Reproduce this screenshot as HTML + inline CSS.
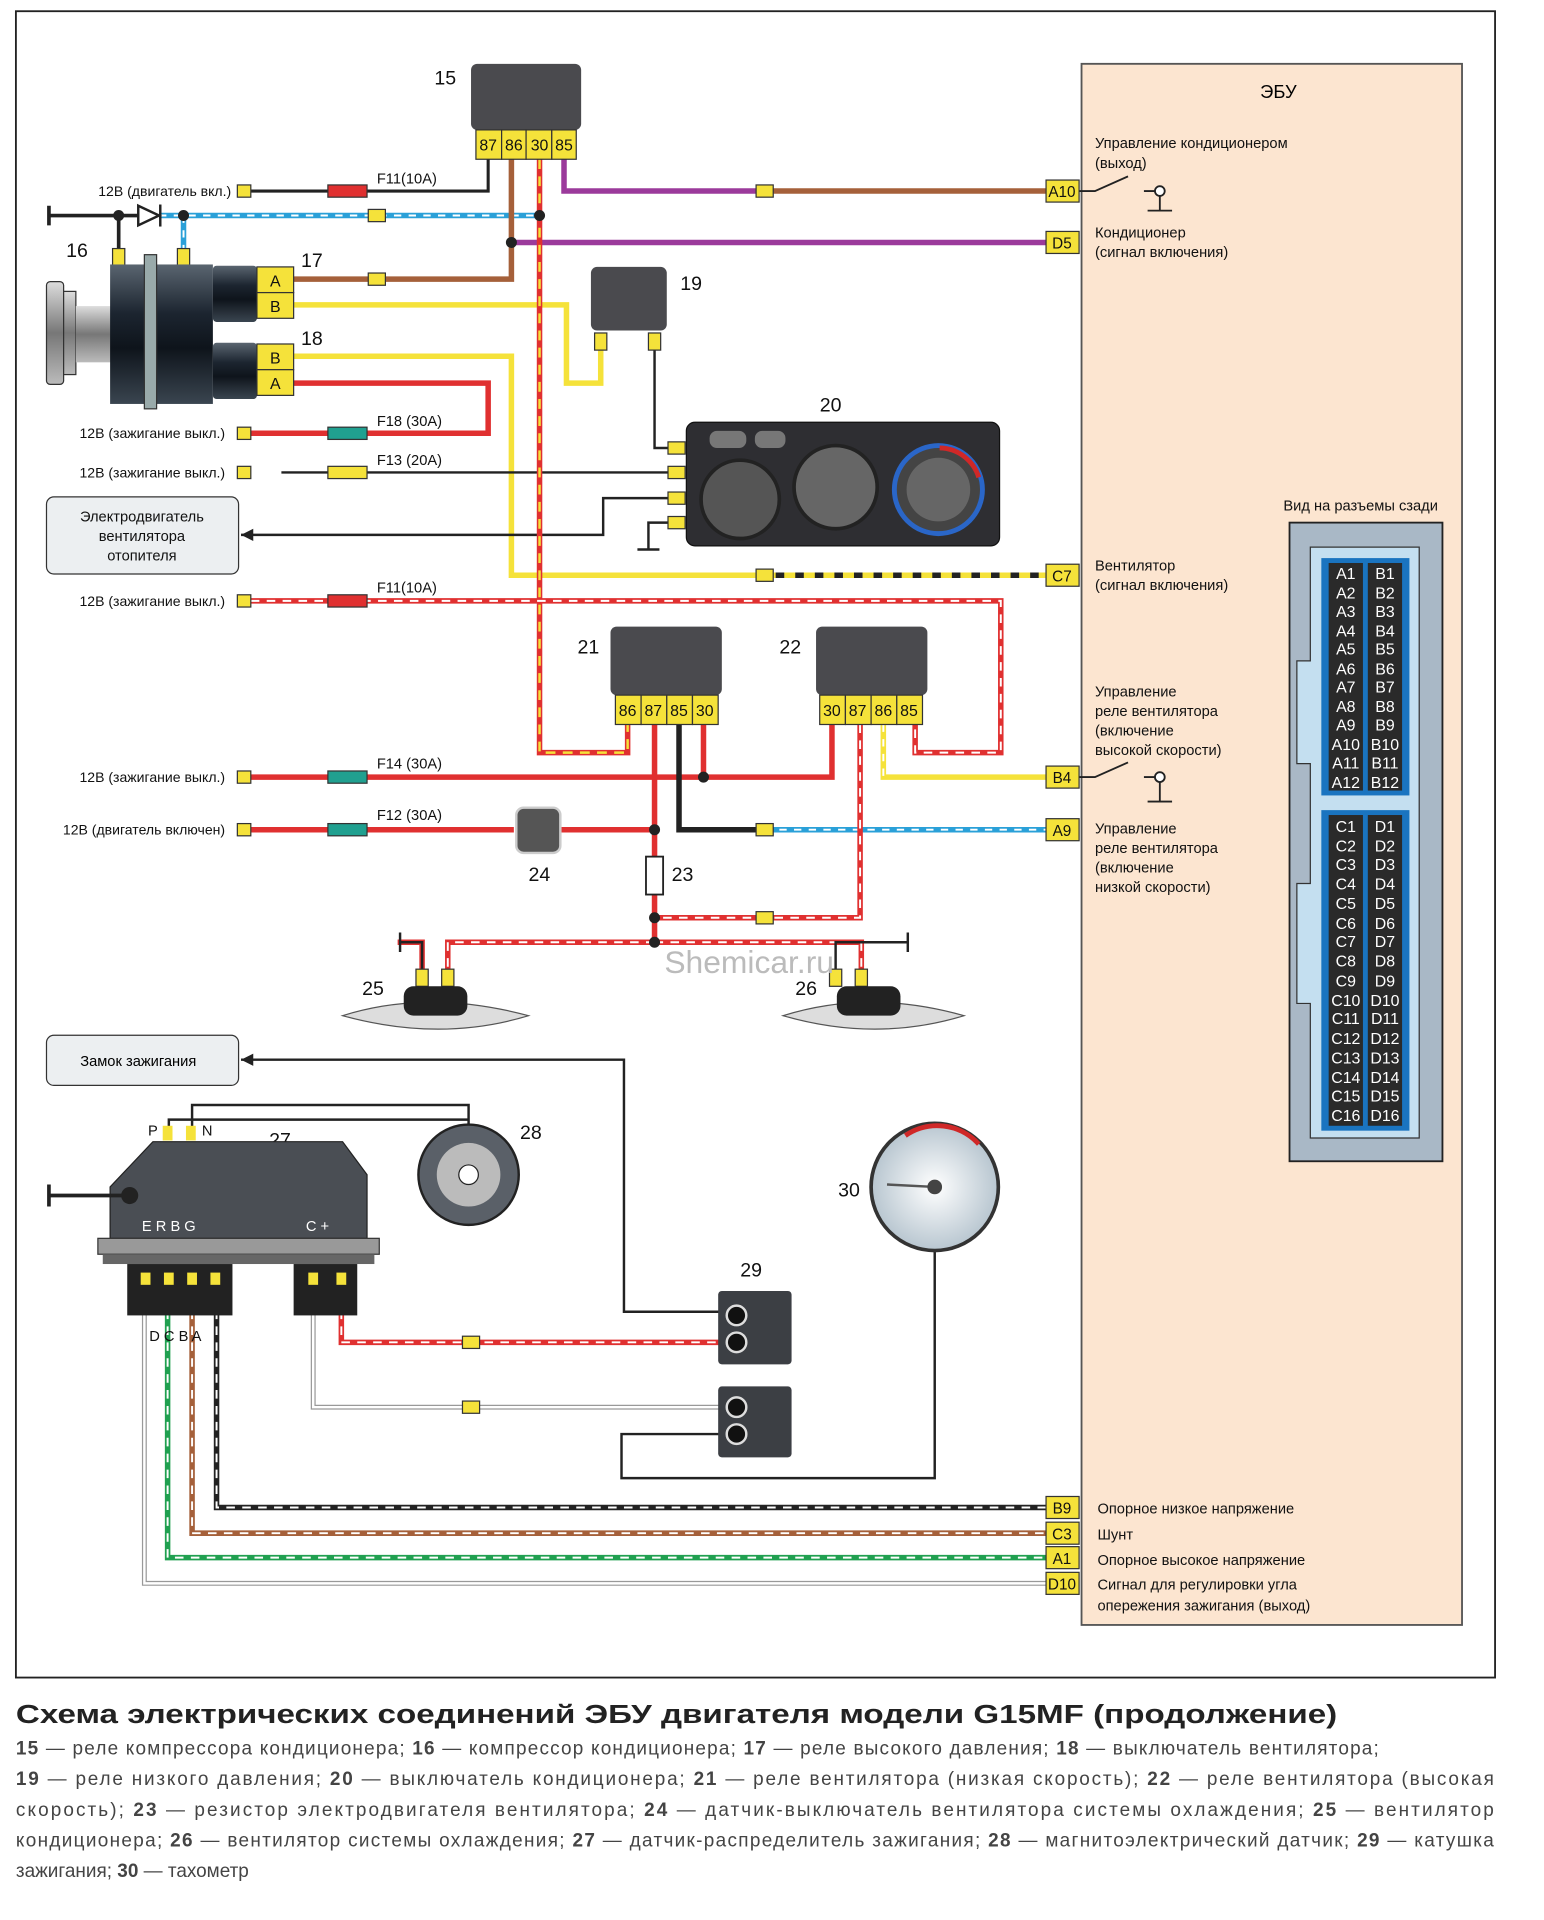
<!DOCTYPE html>
<html><head><meta charset="utf-8"><style>
html,body{margin:0;padding:0;background:#fff}
svg{display:block}
text{font-family:"Liberation Sans",sans-serif}
</style></head><body>
<svg width="1544" height="1920" viewBox="0 0 1262 1569" xmlns="http://www.w3.org/2000/svg">
<defs>
<linearGradient id="cyl" x1="0" y1="0" x2="0" y2="1"><stop offset="0" stop-color="#5a6570"/><stop offset="0.35" stop-color="#1c2530"/><stop offset="0.6" stop-color="#0e141b"/><stop offset="1" stop-color="#3a4550"/></linearGradient>
<linearGradient id="pul" x1="0" y1="0" x2="0" y2="1"><stop offset="0" stop-color="#ddd"/><stop offset="0.5" stop-color="#777"/><stop offset="1" stop-color="#bbb"/></linearGradient>
<radialGradient id="dial"><stop offset="0" stop-color="#fff"/><stop offset="1" stop-color="#b8c6d0"/></radialGradient>
</defs>
<rect x="13" y="9" width="1209" height="1362" fill="#fff" stroke="#222" stroke-width="1.5"/>
<!-- ECU -->
<rect x="884" y="52" width="311" height="1276" fill="#fce5d0" stroke="#555" stroke-width="1.5"/>
<text x="1030" y="80" font-size="15">ЭБУ</text>
<g font-size="12" fill="#111">
<text x="895" y="121">Управление кондиционером</text><text x="895" y="137">(выход)</text>
<text x="895" y="194">Кондиционер</text><text x="895" y="210">(сигнал включения)</text>
<text x="895" y="466">Вентилятор</text><text x="895" y="482">(сигнал включения)</text>
<text x="895" y="569">Управление</text><text x="895" y="585">реле вентилятора</text><text x="895" y="601">(включение</text><text x="895" y="617">высокой скорости)</text>
<text x="895" y="681">Управление</text><text x="895" y="697">реле вентилятора</text><text x="895" y="713">(включение</text><text x="895" y="729">низкой скорости)</text>
<text x="897" y="1237">Опорное низкое напряжение</text>
<text x="897" y="1258">Шунт</text>
<text x="897" y="1279">Опорное высокое напряжение</text>
<text x="897" y="1299">Сигнал для регулировки угла</text>
<text x="897" y="1316">опережения зажигания (выход)</text>
<text x="1049" y="417">Вид на разъемы сзади</text>
</g>
<!-- connector view -->
<rect x="1054" y="427" width="125" height="522" fill="#a9b8c6" stroke="#222" stroke-width="1.5"/>
<path d="M1071 447 H1160 V930 H1071 V820 H1060 V722 H1071 V624 H1060 V540 H1071 Z" fill="#c4dff0" stroke="#333"/>
<rect x="1080" y="456" width="72" height="194" fill="#1a74c0"/>
<rect x="1080" y="662" width="72" height="262" fill="#1a74c0"/>
<g fill="#2a2a2a">
<rect x="1086" y="460" width="28" height="186"/><rect x="1118" y="460" width="28" height="186"/>
<rect x="1086" y="666" width="28" height="254"/><rect x="1118" y="666" width="28" height="254"/>
</g>
<g fill="#fff" font-size="13" text-anchor="middle">
<text x="1100" y="473">A1</text><text x="1132" y="473">B1</text>
<text x="1100" y="489">A2</text><text x="1132" y="489">B2</text>
<text x="1100" y="504">A3</text><text x="1132" y="504">B3</text>
<text x="1100" y="520">A4</text><text x="1132" y="520">B4</text>
<text x="1100" y="535">A5</text><text x="1132" y="535">B5</text>
<text x="1100" y="551">A6</text><text x="1132" y="551">B6</text>
<text x="1100" y="566">A7</text><text x="1132" y="566">B7</text>
<text x="1100" y="582">A8</text><text x="1132" y="582">B8</text>
<text x="1100" y="597">A9</text><text x="1132" y="597">B9</text>
<text x="1100" y="613">A10</text><text x="1132" y="613">B10</text>
<text x="1100" y="628">A11</text><text x="1132" y="628">B11</text>
<text x="1100" y="644">A12</text><text x="1132" y="644">B12</text>
<text x="1100" y="680">C1</text><text x="1132" y="680">D1</text>
<text x="1100" y="696">C2</text><text x="1132" y="696">D2</text>
<text x="1100" y="711">C3</text><text x="1132" y="711">D3</text>
<text x="1100" y="727">C4</text><text x="1132" y="727">D4</text>
<text x="1100" y="743">C5</text><text x="1132" y="743">D5</text>
<text x="1100" y="759">C6</text><text x="1132" y="759">D6</text>
<text x="1100" y="774">C7</text><text x="1132" y="774">D7</text>
<text x="1100" y="790">C8</text><text x="1132" y="790">D8</text>
<text x="1100" y="806">C9</text><text x="1132" y="806">D9</text>
<text x="1100" y="822">C10</text><text x="1132" y="822">D10</text>
<text x="1100" y="837">C11</text><text x="1132" y="837">D11</text>
<text x="1100" y="853">C12</text><text x="1132" y="853">D12</text>
<text x="1100" y="869">C13</text><text x="1132" y="869">D13</text>
<text x="1100" y="885">C14</text><text x="1132" y="885">D14</text>
<text x="1100" y="900">C15</text><text x="1132" y="900">D15</text>
<text x="1100" y="916">C16</text><text x="1132" y="916">D16</text>
</g>

<!-- WIRES -->
<g fill="none" stroke-width="4.5" stroke-linejoin="miter">
<path d="M205 156 H399 V130" stroke="#222" stroke-width="2.5"/>
<path d="M40 176 H113 M97 176 V205 M40 168 V184" stroke="#222" stroke-width="3"/>
<path d="M130 176 H441 M150 176 V205" stroke="#2aa0d8"/>
<path d="M130 176 H441 M150 176 V205" stroke="#fff" stroke-width="1.6" stroke-dasharray="6 6"/>
<path d="M418 130 V228 H240" stroke="#a5603a"/>
<path d="M461 130 V156 H625" stroke="#9b3a9b"/>
<path d="M625 156 H855" stroke="#a5603a"/>
<path d="M418 198 H855" stroke="#9b3a9b"/>
<path d="M240 249 H463 V313 H491 V285" stroke="#f5e23a"/>
<path d="M535 285 V366 H548" stroke="#222" stroke-width="2"/>
<path d="M240 291 H418 V470 H625" stroke="#f5e23a"/>
<path d="M625 470 H855" stroke="#222"/>
<path d="M625 470 H855" stroke="#f5e23a" stroke-dasharray="9 7"/>
<path d="M240 313 H399 V354 H205" stroke="#e03030"/>
<path d="M230 386 H548" stroke="#222" stroke-width="2"/>
<path d="M197 437 H493 V407 H548 M548 427 H530 V449 M521 449 H539" stroke="#222" stroke-width="2"/>
<path d="M441 130 V615 H513 V592" stroke="#e03030"/>
<path d="M441 130 V615 H513 V592" stroke="#f5e23a" stroke-width="2" stroke-dasharray="8 6"/>
<path d="M205 491 H818 V615 H748 V592" stroke="#e03030"/>
<path d="M205 491 H818 V615 H748 V592" stroke="#fff" stroke-width="1.6" stroke-dasharray="7 6"/>
<path d="M205 635 H680 V592 M575 592 V635" stroke="#e03030"/>
<path d="M535 592 V770" stroke="#e03030"/>
<path d="M555 592 V678 H625" stroke="#222"/>
<path d="M625 678 H855" stroke="#2aa0d8"/>
<path d="M625 678 H855" stroke="#fff" stroke-width="1.6" stroke-dasharray="6 6"/>
<path d="M722 592 V635 H855" stroke="#f5e23a"/>
<path d="M722 592 V635" stroke="#fff" stroke-width="1.6" stroke-dasharray="6 6"/>
<path d="M703 592 V750 H535" stroke="#e03030"/>
<path d="M703 592 V750 H535" stroke="#fff" stroke-width="1.6" stroke-dasharray="7 6"/>
<path d="M205 678 H420 M458 678 H535" stroke="#e03030"/>
<path d="M535 770 H366 V792 M535 770 H704 V792 M345 792 V770 H325" stroke="#e03030"/>
<path d="M535 770 H366 V792 M535 770 H704 V792" stroke="#fff" stroke-width="1.6" stroke-dasharray="7 6"/>
<path d="M345 792 V770 H327 V768 M327 762 V778 M683 792 V770 H742 M742 762 V778" stroke="#222" stroke-width="2"/>
<path d="M197 866 H510 V1072 H590" stroke="#222" stroke-width="2"/>
<path d="M138 930 V915 H383 V925 M157 930 V903 H384 M383 903 V920" stroke="#222" stroke-width="2"/>
<path d="M279 1045 V1097 H590" stroke="#e03030"/>
<path d="M279 1045 V1097 H590" stroke="#fff" stroke-width="1.6" stroke-dasharray="7 6"/>
<path d="M256 1045 V1150 H590" stroke="#999" stroke-width="4"/>
<path d="M256 1045 V1150 H590" stroke="#fff" stroke-width="2"/>
<path d="M764 1022 V1208 H508 V1172 H590" stroke="#222" stroke-width="2"/>
<path d="M177 1045 V1232 H855" stroke="#222"/>
<path d="M177 1045 V1232 H855" stroke="#fff" stroke-width="1.6" stroke-dasharray="7 6"/>
<path d="M157 1045 V1253 H855" stroke="#a5603a"/>
<path d="M157 1045 V1253 H855" stroke="#fff" stroke-width="1.6" stroke-dasharray="7 6"/>
<path d="M137 1045 V1273 H855" stroke="#20a050"/>
<path d="M137 1045 V1273 H855" stroke="#fff" stroke-width="1.6" stroke-dasharray="7 6"/>
<path d="M118 1045 V1294 H855" stroke="#999" stroke-width="4"/>
<path d="M118 1045 V1294 H855" stroke="#fff" stroke-width="2"/>
</g>
<g stroke="#222" stroke-width="1.5" fill="none">
<path d="M882 156 H895 L922 144 M935 156 H948 V172 M938 172 H958"/><circle cx="948" cy="156" r="4" fill="#fff"/>
<path d="M882 635 H895 L922 623 M935 635 H948 V655 M938 655 H958"/><circle cx="948" cy="635" r="4" fill="#fff"/>
</g>
<g fill="#222">
<circle cx="97" cy="176" r="4.5"/><circle cx="150" cy="176" r="4.5"/><circle cx="441" cy="176" r="4.5"/><circle cx="418" cy="198" r="4.5"/>
<circle cx="575" cy="635" r="4.5"/><circle cx="535" cy="678" r="4.5"/><circle cx="535" cy="750" r="4.5"/><circle cx="535" cy="770" r="4.5"/>
</g>
<path d="M113 168 L130 176 L113 184 Z" fill="#fff" stroke="#222" stroke-width="2"/><path d="M131 167 V185" stroke="#222" stroke-width="2"/>
<g stroke="#333" stroke-width="1">
<rect x="268" y="151" width="32" height="10" fill="#e03030"/>
<rect x="268" y="349" width="32" height="10" fill="#20a090"/>
<rect x="268" y="381" width="32" height="10" fill="#f5e23a"/>
<rect x="268" y="486" width="32" height="10" fill="#e03030"/>
<rect x="268" y="630" width="32" height="10" fill="#20a090"/>
<rect x="268" y="673" width="32" height="10" fill="#20a090"/>
</g>
<g font-size="12" fill="#111">
<text x="308" y="150">F11(10A)</text><text x="308" y="348">F18 (30A)</text><text x="308" y="380">F13 (20A)</text>
<text x="308" y="484">F11(10A)</text><text x="308" y="628">F14 (30A)</text><text x="308" y="670">F12 (30A)</text>
</g>
<g font-size="11.5" fill="#111" text-anchor="end">
<text x="189" y="160">12В (двигатель вкл.)</text>
<text x="184" y="358">12В (зажигание выкл.)</text>
<text x="184" y="390">12В (зажигание выкл.)</text>
<text x="184" y="495">12В (зажигание выкл.)</text>
<text x="184" y="639">12В (зажигание выкл.)</text>
<text x="184" y="682">12В (двигатель включен)</text>
</g>
<g fill="#f5e23a" stroke="#333" stroke-width="1">
<rect x="194" y="151" width="11" height="10"/><rect x="194" y="349" width="11" height="10"/><rect x="194" y="381" width="11" height="10"/>
<rect x="194" y="486" width="11" height="10"/><rect x="194" y="630" width="11" height="10"/><rect x="194" y="673" width="11" height="10"/>
<rect x="301" y="171" width="14" height="10"/><rect x="301" y="223" width="14" height="10"/>
<rect x="618" y="151" width="14" height="10"/><rect x="618" y="465" width="14" height="10"/><rect x="618" y="673" width="14" height="10"/><rect x="618" y="745" width="14" height="10"/>
<rect x="378" y="1092" width="14" height="10"/><rect x="378" y="1145" width="14" height="10"/>
<rect x="92" y="203" width="10" height="14"/><rect x="145" y="203" width="10" height="14"/>
<rect x="486" y="272" width="10" height="14"/><rect x="530" y="272" width="10" height="14"/>
<rect x="546" y="361" width="14" height="10"/><rect x="546" y="381" width="14" height="10"/><rect x="546" y="402" width="14" height="10"/><rect x="546" y="422" width="14" height="10"/>
<rect x="340" y="792" width="10" height="14"/><rect x="361" y="792" width="10" height="14"/><rect x="678" y="792" width="10" height="14"/><rect x="699" y="792" width="10" height="14"/>
</g>
<g fill="#f5e23a" stroke="#333" stroke-width="1">
<rect x="855" y="147" width="27" height="18"/><rect x="855" y="189" width="27" height="18"/><rect x="855" y="461" width="27" height="18"/>
<rect x="855" y="626" width="27" height="18"/><rect x="855" y="669" width="27" height="18"/>
<rect x="855" y="1223" width="27" height="18"/><rect x="855" y="1244" width="27" height="18"/><rect x="855" y="1264" width="27" height="18"/><rect x="855" y="1285" width="27" height="18"/>
</g>
<g font-size="12.5" fill="#111" text-anchor="middle">
<text x="868" y="161">A10</text><text x="868" y="203">D5</text><text x="868" y="475">C7</text><text x="868" y="640">B4</text><text x="868" y="683">A9</text>
<text x="868" y="1237">B9</text><text x="868" y="1258">C3</text><text x="868" y="1278">A1</text><text x="868" y="1299">D10</text>
</g>
<rect x="385" y="52" width="90" height="54" rx="5" fill="#4a4a4e"/>
<g fill="#f5e23a" stroke="#333"><rect x="389" y="106" width="21" height="24"/><rect x="410" y="106" width="20" height="24"/><rect x="430" y="106" width="21" height="24"/><rect x="451" y="106" width="20" height="24"/></g>
<g font-size="13" text-anchor="middle" fill="#111"><text x="399" y="123">87</text><text x="420" y="123">86</text><text x="441" y="123">30</text><text x="461" y="123">85</text></g>
<rect x="483" y="218" width="62" height="52" rx="5" fill="#4a4a4e"/>
<rect x="499" y="512" width="91" height="56" rx="5" fill="#4a4a4e"/>
<rect x="667" y="512" width="91" height="56" rx="5" fill="#4a4a4e"/>
<g fill="#f5e23a" stroke="#333">
<rect x="503" y="568" width="21" height="24"/><rect x="524" y="568" width="21" height="24"/><rect x="545" y="568" width="21" height="24"/><rect x="566" y="568" width="21" height="24"/>
<rect x="670" y="568" width="21" height="24"/><rect x="691" y="568" width="21" height="24"/><rect x="712" y="568" width="21" height="24"/><rect x="733" y="568" width="21" height="24"/>
</g>
<g font-size="13" text-anchor="middle" fill="#111">
<text x="513" y="585">86</text><text x="534" y="585">87</text><text x="555" y="585">85</text><text x="576" y="585">30</text>
<text x="680" y="585">30</text><text x="701" y="585">87</text><text x="722" y="585">86</text><text x="743" y="585">85</text>
</g>
<g font-size="16" fill="#111">
<text x="355" y="69">15</text><text x="54" y="210">16</text><text x="246" y="218">17</text><text x="246" y="282">18</text><text x="556" y="237">19</text>
<text x="670" y="336">20</text><text x="472" y="534">21</text><text x="637" y="534">22</text><text x="549" y="720">23</text><text x="432" y="720">24</text>
<text x="296" y="813">25</text><text x="650" y="813">26</text><text x="220" y="937">27</text><text x="425" y="931">28</text><text x="605" y="1043">29</text><text x="685" y="978">30</text>
</g>
<rect x="38" y="230" width="14" height="84" rx="3" fill="url(#pul)" stroke="#333"/>
<rect x="52" y="238" width="10" height="68" fill="url(#pul)" stroke="#333"/>
<rect x="62" y="250" width="30" height="46" fill="url(#pul)"/>
<rect x="90" y="216" width="84" height="114" fill="url(#cyl)"/>
<rect x="118" y="208" width="10" height="126" fill="#9aa" stroke="#333"/>
<rect x="174" y="217" width="36" height="46" rx="3" fill="url(#cyl)"/>
<rect x="174" y="280" width="36" height="46" rx="3" fill="url(#cyl)"/>
<g fill="#f5e23a" stroke="#333"><rect x="210" y="218" width="30" height="21"/><rect x="210" y="239" width="30" height="21"/><rect x="210" y="281" width="30" height="21"/><rect x="210" y="302" width="30" height="21"/></g>
<g font-size="13" text-anchor="middle" fill="#111"><text x="225" y="234">A</text><text x="225" y="255">B</text><text x="225" y="297">B</text><text x="225" y="318">A</text></g>
<rect x="561" y="345" width="256" height="101" rx="7" fill="#2e2e32" stroke="#111"/>
<circle cx="605" cy="408" r="32" fill="#555" stroke="#222" stroke-width="3"/>
<circle cx="683" cy="398" r="34" fill="#666" stroke="#222" stroke-width="3"/>
<circle cx="767" cy="400" r="36" fill="#444" stroke="#2a66c8" stroke-width="4"/>
<path d="M768 366 A34 34 0 0 1 800 390" stroke="#d02828" stroke-width="4" fill="none"/>
<circle cx="767" cy="400" r="26" fill="#666"/>
<rect x="580" y="352" width="30" height="14" rx="6" fill="#777"/><rect x="617" y="352" width="25" height="14" rx="6" fill="#777"/>
<rect x="38" y="406" width="157" height="63" rx="6" fill="#eceff1" stroke="#333"/>
<g font-size="12" text-anchor="middle" fill="#111"><text x="116" y="426">Электродвигатель</text><text x="116" y="442">вентилятора</text><text x="116" y="458">отопителя</text></g>
<rect x="38" y="846" width="157" height="41" rx="6" fill="#eceff1" stroke="#333"/>
<text x="113" y="871" font-size="12" text-anchor="middle">Замок зажигания</text>
<path d="M197 437 l10 -5 v10 z M197 866 l10 -5 v10 z" fill="#222"/>
<rect x="422" y="660" width="36" height="37" rx="6" fill="#555" stroke="#ccc" stroke-width="2"/>
<rect x="528" y="700" width="14" height="31" fill="#fff" stroke="#222" stroke-width="1.5"/>
<g fill="#ddd" stroke="#555">
<path d="M280 830 Q350 808 432 830 Q360 852 280 830 Z"/><path d="M640 830 Q710 808 788 830 Q716 852 640 830 Z"/>
</g>
<rect x="330" y="806" width="52" height="24" rx="8" fill="#222"/><rect x="684" y="806" width="52" height="24" rx="8" fill="#222"/>
<text x="543" y="795" font-size="26" fill="#bbb">Shemicar.ru</text>
<path d="M90 970 L125 933 H280 L300 960 V1012 H90 Z" fill="#4a4e54" stroke="#222"/>
<circle cx="106" cy="977" r="7" fill="#222"/>
<path d="M40 977 H100 M40 968 V986" stroke="#222" stroke-width="3"/>
<g font-size="12" fill="#fff"><text x="116" y="1006">E R B G</text><text x="250" y="1006">C +</text></g>
<rect x="80" y="1012" width="230" height="13" fill="#999" stroke="#333"/>
<rect x="84" y="1025" width="222" height="8" fill="#666"/>
<rect x="104" y="1033" width="86" height="42" fill="#222"/><rect x="240" y="1033" width="52" height="42" fill="#222"/>
<g fill="#f5e23a"><rect x="115" y="1040" width="8" height="10"/><rect x="134" y="1040" width="8" height="10"/><rect x="153" y="1040" width="8" height="10"/><rect x="172" y="1040" width="8" height="10"/><rect x="252" y="1040" width="8" height="10"/><rect x="275" y="1040" width="8" height="10"/>
<rect x="133" y="920" width="8" height="12"/><rect x="152" y="920" width="8" height="12"/></g>
<g font-size="12" fill="#111"><text x="121" y="928">P</text><text x="165" y="928">N</text><text x="122" y="1096">D C B A</text></g>
<circle cx="383" cy="960" r="41" fill="#5a6068" stroke="#222" stroke-width="2"/>
<circle cx="383" cy="960" r="26" fill="#bbb"/>
<circle cx="383" cy="960" r="8" fill="#fff" stroke="#222"/>
<rect x="587" y="1055" width="60" height="60" rx="3" fill="#3c3f44"/><rect x="587" y="1133" width="60" height="58" rx="3" fill="#3c3f44"/>
<g fill="#111" stroke="#ddd" stroke-width="2"><circle cx="602" cy="1075" r="8"/><circle cx="602" cy="1097" r="8"/><circle cx="602" cy="1150" r="8"/><circle cx="602" cy="1172" r="8"/></g>
<circle cx="764" cy="970" r="52" fill="url(#dial)" stroke="#333" stroke-width="3"/>
<path d="M740 928 A46 46 0 0 1 800 935" stroke="#d02828" stroke-width="4" fill="none"/>
<path d="M725 968 L764 970" stroke="#555" stroke-width="2"/><circle cx="764" cy="970" r="6" fill="#444"/>
<text x="13" y="1408" font-size="21" font-weight="bold" fill="#222" textLength="1080" lengthAdjust="spacingAndGlyphs">Схема электрических соединений ЭБУ двигателя модели G15MF (продолжение)</text>
<g font-size="15.5" fill="#444">
<text x="13" y="1434" textLength="1114"><tspan font-weight="bold">15</tspan> — реле компрессора кондиционера; <tspan font-weight="bold">16</tspan> — компрессор кондиционера; <tspan font-weight="bold">17</tspan> — реле высокого давления; <tspan font-weight="bold">18</tspan> — выключатель вентилятора;</text>
<text x="13" y="1459" textLength="1208"><tspan font-weight="bold">19</tspan> — реле низкого давления; <tspan font-weight="bold">20</tspan> — выключатель кондиционера; <tspan font-weight="bold">21</tspan> — реле вентилятора (низкая скорость); <tspan font-weight="bold">22</tspan> — реле вентилятора (высокая</text>
<text x="13" y="1484" textLength="1208">скорость); <tspan font-weight="bold">23</tspan> — резистор электродвигателя вентилятора; <tspan font-weight="bold">24</tspan> — датчик-выключатель вентилятора системы охлаждения; <tspan font-weight="bold">25</tspan> — вентилятор</text>
<text x="13" y="1509" textLength="1208">кондиционера; <tspan font-weight="bold">26</tspan> — вентилятор системы охлаждения; <tspan font-weight="bold">27</tspan> — датчик-распределитель зажигания; <tspan font-weight="bold">28</tspan> — магнитоэлектрический датчик; <tspan font-weight="bold">29</tspan> — катушка</text>
<text x="13" y="1534">зажигания; <tspan font-weight="bold">30</tspan> — тахометр</text>
</g>
</svg>
</body></html>
